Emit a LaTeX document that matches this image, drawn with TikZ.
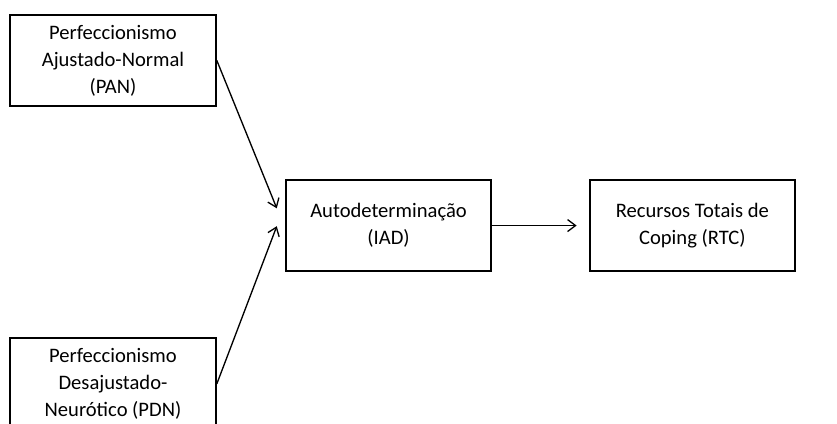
\documentclass[tikz,border=0pt]{standalone}
\usepackage{fontspec}
\setmainfont{Carlito}
\usetikzlibrary{arrows.meta}

\tikzset{
  caixa/.style={draw, line width=1.5pt, minimum width=5.44cm, minimum height=2.41cm,
    align=center, inner sep=2pt, font=\fontsize{15.5}{20.3}\selectfont},
  seta/.style={-{Straight Barb[length=6pt, width=9pt]}, line width=1pt}
}

\begin{document}
\begin{tikzpicture}
    \clip (0,0) rectangle (22.146,11.218);

    % perfeccionismo (PAN e PDN)
    \node[caixa] (pan) at (2.99,9.62) {Perfeccionismo\\Ajustado-Normal\\(PAN)};
    \node[caixa] (pdn) at (2.99,1.06) {Perfeccionismo\\Desajustado-\\Neurótico (PDN)};

    % mediador e resultado
    \node[caixa] (iad) at (10.28,5.25) {Autodeterminação\\(IAD)};
    \node[caixa] (rtc) at (18.32,5.25) {Recursos Totais de\\Coping (RTC)};

    % setas
    \coordinate (entra pan) at ([xshift=-6pt, yshift=13pt]iad.west);
    \coordinate (entra pdn) at ([xshift=-6pt, yshift=-0.5pt]iad.west);
    \draw[seta] (pan.east) -- (entra pan);
    \draw[seta] (pdn.east) -- (entra pdn);
    \draw[seta, shorten >=9pt] (iad.east) -- (rtc.west);
\end{tikzpicture}
\end{document}
